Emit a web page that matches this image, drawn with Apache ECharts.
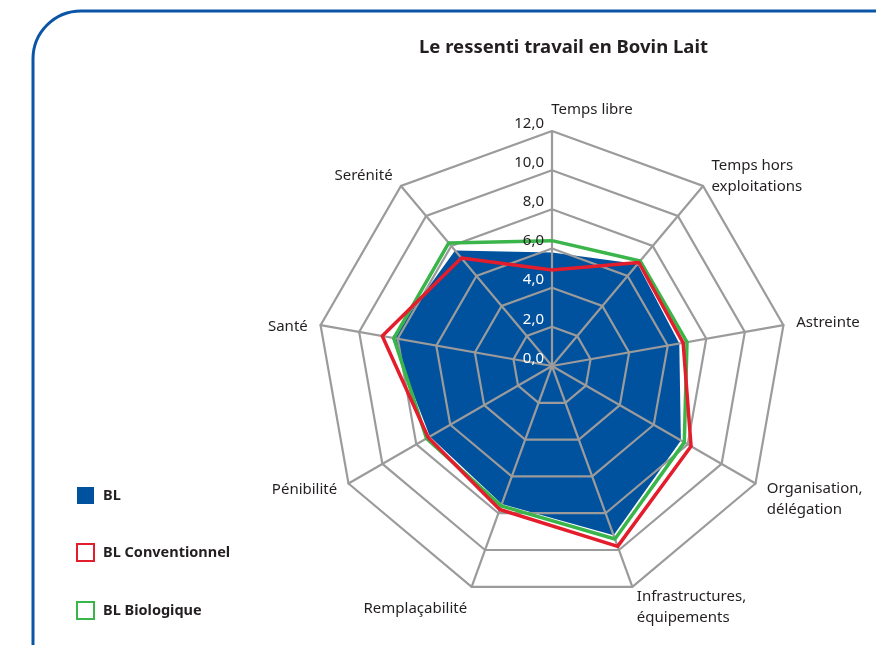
<!DOCTYPE html>
<html lang="fr">
<head>
    <meta charset="UTF-8">
    <title>Le ressenti travail en Bovin Lait</title>
    <style>
        body { margin: 0; padding: 0; background: #fff; }
        #chart { width: 876px; height: 645px; }
    </style>
</head>
<body>
    <div id="chart"></div>
    <script src="https://cdn.jsdelivr.net/npm/echarts@6/dist/echarts.min.js"></script>
    <script>
        // axes, clockwise from the top
        var axes = ['Temps libre', 'Temps hors\nexploitations', 'Astreinte', 'Organisation,\ndélégation',
            'Infrastructures,\néquipements', 'Remplaçabilité', 'Pénibilité', 'Santé', 'Serénité'];
        var bl = [5.8, 6.8, 6.6, 7.6, 9.2, 7.5, 7.2, 8.3, 7.7];
        var blConv = [4.9, 6.9, 6.8, 8.2, 9.8, 7.8, 7.3, 8.8, 7.2];
        var blBio = [6.4, 7.0, 7.0, 7.8, 9.4, 7.6, 7.4, 8.2, 8.2];
        var ticks = [0, 2, 4, 6, 8, 10, 12];

        var font = 'Noto Sans';
        var CENTER = [552, 366];
        var R = 235;

        // echarts lays radar axes out counter-clockwise, so flip the order
        function cw(arr) {
            return [arr[0]].concat(arr.slice(1).reverse());
        }

        // small nudges for some axis names (rich padding)
        var nameStyle = {
            'Temps libre': 'tl',
            'Temps hors\nexploitations': 'thx',
            'Organisation,\ndélégation': 'org',
            'Infrastructures,\néquipements': 'inf',
            'Remplaçabilité': 'rem',
            'Santé': 'san'
        };

        var dom = document.getElementById('chart');
        var myChart = echarts.init(dom);

        var base = { fontFamily: font, fontSize: 15, lineHeight: 21, color: '#231f20' };
        function rs(pad) {
            return Object.assign({}, base, { padding: pad });
        }

        var option = {
            animation: false,
            title: {
                text: 'Le ressenti travail en Bovin Lait',
                left: 414,
                top: 33,
                textStyle: { fontFamily: font, fontSize: 18.5, fontWeight: 'bold', color: '#231f20' }
            },
            graphic: [{
                type: 'rect',
                shape: { x: 33, y: 11, width: 900, height: 700, r: 48 },
                style: { fill: 'none', stroke: '#0a55a5', lineWidth: 3 }
            }],
            legend: {
                orient: 'vertical',
                left: 71,
                top: 482,
                itemGap: 39,
                itemWidth: 17,
                itemHeight: 17,
                icon: 'rect',
                textStyle: { fontFamily: font, fontSize: 14.5, fontWeight: 'bold', color: '#231f20', padding: [0, 0, 0, 4] },
                data: [
                    { name: 'BL', itemStyle: { color: '#00519e' } },
                    { name: 'BL Conventionnel', itemStyle: { color: '#fff', borderColor: '#e31d2c', borderWidth: 2 } },
                    { name: 'BL Biologique', itemStyle: { color: '#fff', borderColor: '#3ab54a', borderWidth: 2 } }
                ]
            },
            radar: {
                center: CENTER,
                radius: R,
                startAngle: 90,
                splitNumber: 6,
                z: 3,
                indicator: cw(axes).map(function (n) { return { name: n, min: 0, max: 12 }; }),
                nameGap: 13,
                axisName: Object.assign({}, base, {
                    verticalAlign: 'middle',
                    formatter: function (name) {
                        var k = nameStyle[name];
                        if (!k) return name;
                        return name.split('\n').map(function (s) { return '{' + k + '|' + s + '}'; }).join('\n');
                    },
                    rich: {
                        tl: rs([0, 0, 16, 80]),
                        thx: rs([0, 0, 0, 0]),
                        org: rs([18, 0, 0, 0]),
                        inf: rs([16, 0, 0, 0]),
                        rem: rs([20, 0, 0, 0]),
                        san: rs([8, 0, 0, 0])
                    }
                }),
                axisLine: { lineStyle: { color: '#9b9b9b', width: 2.2 } },
                splitLine: { lineStyle: { color: '#9b9b9b', width: 2.2 } },
                splitArea: { show: false }
            },
            // polar overlay only carries the value labels on the top axis
            polar: { center: CENTER, radius: R },
            angleAxis: { type: 'value', startAngle: 90, show: false },
            radiusAxis: {
                min: 0,
                max: 12,
                interval: 2,
                z: 10,
                axisLine: { show: false },
                axisTick: { show: false },
                splitLine: { show: false },
                axisLabel: {
                    fontFamily: font,
                    fontSize: 15,
                    margin: 8,
                    verticalAlign: 'bottom',
                    formatter: function (v) { return v.toFixed(1).replace('.', ','); },
                    color: function (v) { return Number(v) <= 4 ? '#ffffff' : '#231f20'; }
                }
            },
            series: [
                {
                    name: 'BL',
                    type: 'radar',
                    z: 1,
                    symbol: 'none',
                    lineStyle: { width: 0 },
                    itemStyle: { color: '#00519e' },
                    areaStyle: { color: '#00519e', opacity: 1 },
                    data: [{ name: 'BL', value: cw(bl) }]
                },
                {
                    name: 'BL Conventionnel',
                    type: 'radar',
                    z: 6,
                    symbol: 'none',
                    itemStyle: { color: '#e31d2c' },
                    lineStyle: { color: '#e31d2c', width: 3.5 },
                    data: [{ name: 'BL Conventionnel', value: cw(blConv) }]
                },
                {
                    name: 'BL Biologique',
                    type: 'radar',
                    z: 5,
                    symbol: 'none',
                    itemStyle: { color: '#3ab54a' },
                    lineStyle: { color: '#3ab54a', width: 3.5 },
                    data: [{ name: 'BL Biologique', value: cw(blBio) }]
                }
            ]
        };

        myChart.setOption(option);
    </script>
</body>
</html>
